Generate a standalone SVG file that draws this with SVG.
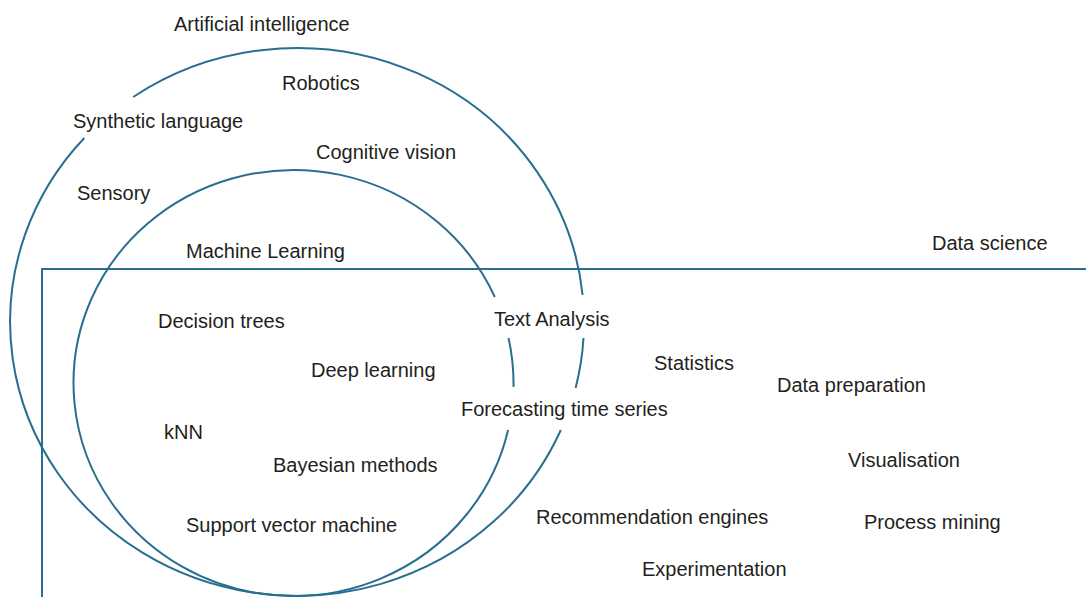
<svg xmlns="http://www.w3.org/2000/svg" width="1086" height="597" viewBox="0 0 1086 597">
<style>
.ln{fill:none;stroke:#286f8f;stroke-width:2}
text{font-family:"Liberation Sans",Arial,sans-serif;font-size:20px;fill:#231f20}
</style>
<rect width="1086" height="597" fill="#ffffff"/>
<g id="connectors">
<g id="ai-circle">
<path class="ln" d="M133.2,97 A287,274 0 0 1 582.6,295"/>
<path class="ln" d="M583.5,338 A287,274 0 0 1 575.6,388"/>
<path class="ln" d="M560.8,430 A287,274 0 1 1 84.3,138"/>
</g>
<g id="ml-circle">
<path class="ln" d="M508.1,430 A220,213 0 1 1 494.8,297"/>
<path class="ln" d="M508.5,338 A220,213 0 0 1 513.5,387"/>
</g>
<g id="ds-box">
<path class="ln" d="M42,597 V269 H1086"/>
</g>
</g>
<g id="node-ai"><text x="174" y="31">Artificial intelligence</text></g>
<g id="node-robotics"><text x="282" y="90">Robotics</text></g>
<g id="node-synthetic"><text x="73" y="128">Synthetic language</text></g>
<g id="node-vision"><text x="316" y="159">Cognitive vision</text></g>
<g id="node-sensory"><text x="77" y="200">Sensory</text></g>
<g id="node-ml"><text x="186" y="258">Machine Learning</text></g>
<g id="node-ds"><text x="932" y="250">Data science</text></g>
<g id="node-dt"><text x="158" y="328">Decision trees</text></g>
<g id="node-text"><text x="494" y="326">Text Analysis</text></g>
<g id="node-deep"><text x="311" y="377">Deep learning</text></g>
<g id="node-stats"><text x="654" y="370">Statistics</text></g>
<g id="node-prep"><text x="777" y="392">Data preparation</text></g>
<g id="node-forecast"><text x="461" y="416">Forecasting time series</text></g>
<g id="node-knn"><text x="164" y="439">kNN</text></g>
<g id="node-bayes"><text x="273" y="472">Bayesian methods</text></g>
<g id="node-vis"><text x="848" y="467">Visualisation</text></g>
<g id="node-rec"><text x="536" y="524">Recommendation engines</text></g>
<g id="node-pm"><text x="864" y="529">Process mining</text></g>
<g id="node-svm"><text x="186" y="532">Support vector machine</text></g>
<g id="node-exp"><text x="642" y="576">Experimentation</text></g>
</svg>
